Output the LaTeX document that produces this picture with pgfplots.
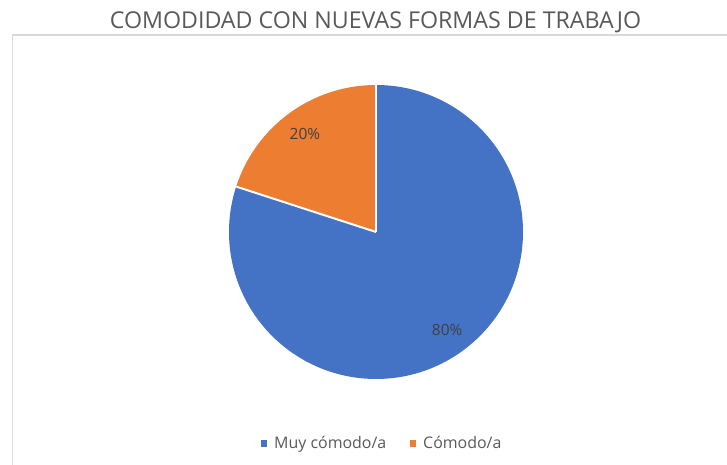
\documentclass[border=0pt]{standalone}
\usepackage{pgfplots}
\pgfplotsset{compat=1.18}
\usepackage{pgfplotstable}
\usetikzlibrary{calc}
\usepackage{fontspec}
\setmainfont{Open Sans}
\definecolor{cblue}{HTML}{4472C4}
\definecolor{corange}{HTML}{ED7D31}
\definecolor{ctext}{HTML}{595959}
\definecolor{clabel}{HTML}{404040}
\definecolor{cborder}{HTML}{D9D9D9}
\pgfplotstableread{
label value
MuyComodo 80
Comodo 20
}\piedata
\pgfplotstablegetelem{0}{value}\of\piedata \let\va\pgfplotsretval
\pgfplotstablegetelem{1}{value}\of\piedata \let\vb\pgfplotsretval
\pgfmathsetmacro{\tot}{\va+\vb}
\pgfmathsetmacro{\fa}{\va/\tot}
\pgfmathsetmacro{\fb}{\vb/\tot}
\pgfmathsetmacro{\aS}{90}
\pgfmathsetmacro{\aM}{90-360*\fa}
\pgfmathsetmacro{\aE}{\aM-360*\fb}
\pgfmathsetmacro{\mA}{(\aS+\aM)/2}
\pgfmathsetmacro{\mB}{(\aM+\aE)/2}
\pgfmathtruncatemacro{\pA}{round(100*\fa)}
\pgfmathtruncatemacro{\pB}{round(100*\fb)}
\begin{document}
\begin{tikzpicture}
\begin{axis}[
  x=1bp, y=1bp, xmin=0, xmax=727, ymin=0, ymax=465,
  hide axis, clip=false, scale only axis,
]
\def\cx{376}\def\cy{233}\def\R{147}
% border
\draw[cborder, line width=1.5bp] (axis cs:12.5,0) -- (axis cs:12.5,430) -- (axis cs:727,430);
% slices
\fill[cblue] (axis cs:\cx,\cy) -- ++(\aS:\R bp) arc[start angle=\aS, end angle=\aM, radius=\R bp] -- cycle;
\fill[corange] (axis cs:\cx,\cy) -- ++(\aM:\R bp) arc[start angle=\aM, end angle=\aE, radius=\R bp] -- cycle;
\draw[white, line width=2bp] (axis cs:\cx,\cy) -- ++(\aS:\R bp);
\draw[white, line width=2bp] (axis cs:\cx,\cy) -- ++(\aM:\R bp);
% labels
\node[font=\fontsize{15.5}{18}\selectfont, text=clabel, inner sep=0pt] at ($(axis cs:\cx,\cy)+(\mA:121bp)$) {\pA\%};
\node[font=\fontsize{15.5}{18}\selectfont, text=clabel, inner sep=0pt] at ($(axis cs:\cx,\cy)+(\mB:121bp)$) {\pB\%};
% title
\node[anchor=base, font=\fontsize{23.3}{27}\selectfont, text=ctext, inner sep=0pt] at (axis cs:375.5,436) {COMODIDAD CON NUEVAS FORMAS DE TRABAJO};
% legend
\fill[cblue] (axis cs:261,18) rectangle (axis cs:267,24.5);
\node[anchor=base west, font=\fontsize{16}{18}\selectfont, text=ctext, inner sep=0pt] at (axis cs:274,16) {Muy cómodo/a};
\fill[corange] (axis cs:410,18) rectangle (axis cs:416,24.5);
\node[anchor=base west, font=\fontsize{16}{18}\selectfont, text=ctext, inner sep=0pt] at (axis cs:423,16) {Cómodo/a};
\end{axis}
\pgfresetboundingbox
\path[use as bounding box] (current axis.south west) rectangle (current axis.north east);
\end{tikzpicture}
\end{document}
